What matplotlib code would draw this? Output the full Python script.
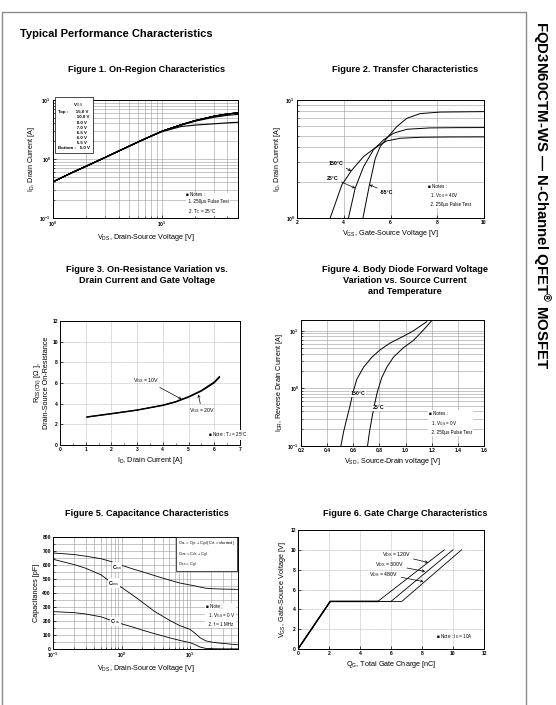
import matplotlib
matplotlib.use("Agg")
import matplotlib.pyplot as plt
from matplotlib.lines import Line2D
from matplotlib.ticker import NullFormatter
import numpy as np

plt.rcParams['font.family'] = ['Liberation Sans', 'DejaVu Sans']
plt.rcParams['mathtext.fontset'] = 'custom'
plt.rcParams['mathtext.rm'] = 'Liberation Sans'
plt.rcParams['mathtext.it'] = 'Liberation Sans'
plt.rcParams['mathtext.bf'] = 'Liberation Sans:bold'

W, H = 556, 705

# ---- Figure 1 data: on-region (ID vs VDS, log-log)
f1_vds = [1, 1.5, 2, 3, 5, 7, 10, 15, 20, 30, 40, 50]
f1_top = [0.41, 0.59, 0.75, 1.06, 1.65, 2.2, 2.95, 3.8, 4.45, 5.3, 5.8, 6.05]
f1_55v = [0.41, 0.59, 0.75, 1.06, 1.65, 2.2, 2.95, 3.75, 4.35, 5.1, 5.5, 5.7]
f1_5v = [0.41, 0.59, 0.75, 1.06, 1.65, 2.2, 2.9, 3.55, 3.75, 3.95, 4.1, 4.2]
f1_legend = ["15.0 V", "10.0 V", "8.0 V", "7.0 V", "6.5 V", "6.0 V", "5.5 V", "5.0 V"]

# ---- Figure 2 data: transfer characteristics
f2_vgs_150 = [3.42, 3.92, 4.32, 4.85, 5.42, 5.84, 6.41, 7.27, 8.5, 10]
f2_id_150 = [1.0, 1.91, 2.51, 3.32, 4.03, 4.5, 4.74, 4.83, 4.86, 4.87]
f2_vgs_25 = [4.2, 4.49, 4.85, 5.27, 5.7, 6.13, 6.7, 7.69, 8.8, 10]
f2_id_25 = [1.0, 1.79, 2.73, 3.78, 4.59, 5.23, 5.65, 5.8, 5.83, 5.84]
f2_vgs_m55 = [4.82, 5.1, 5.35, 5.56, 5.84, 6.27, 6.7, 7.27, 8.12, 10]
f2_id_m55 = [1.0, 1.91, 3.21, 4.03, 4.74, 5.95, 7.0, 7.67, 7.9, 7.97]

# ---- Figure 3 data: on-resistance vs drain current
f3_id = [1.05, 2, 3, 4, 4.5, 5, 5.5, 6, 6.2]
f3_r10 = [2.72, 3.04, 3.39, 3.86, 4.2, 4.68, 5.28, 6.1, 6.62]
f3_r20 = [2.7, 3.02, 3.37, 3.83, 4.16, 4.63, 5.22, 6.02, 6.55]

# ---- Figure 4 data: body diode forward voltage
f4_vsd_150 = [0.505, 0.526, 0.551, 0.577, 0.597, 0.627, 0.678, 0.742, 0.806, 0.882, 0.984, 1.06, 1.162]
f4_idr_150 = [0.1, 0.177, 0.303, 0.522, 0.84, 1.44, 2.32, 3.48, 4.69, 6.14, 8.05, 10.0, 14.4]
f4_vsd_25 = [0.709, 0.724, 0.742, 0.762, 0.785, 0.818, 0.856, 0.907, 0.984, 1.06, 1.136, 1.2]
f4_idr_25 = [0.1, 0.177, 0.303, 0.522, 0.89, 1.54, 2.32, 3.48, 5.1, 6.8, 10.3, 15.0]

# ---- Figure 5 data: capacitance
f5_vds = [0.1, 0.2, 0.3, 0.5, 0.7, 1, 1.5, 2, 3, 5, 7, 10, 12, 14, 17, 22, 30, 50]
f5_ciss = [686, 675, 663, 645, 625, 598, 570, 552, 525, 492, 472, 457, 450, 442, 434, 430, 428, 426]
f5_coss = [641, 604, 577, 530, 478, 440, 380, 335, 270, 205, 168, 140, 110, 80, 58, 47, 40, 30]
f5_crss = [267, 260, 250, 230, 205, 180, 155, 135, 110, 80, 62, 45, 30, 14, 4, 2, 1, 1]

# ---- Figure 6 data: gate charge
f6_qg_120 = [0, 2.08, 5.15, 9.44]
f6_qg_300 = [0, 2.08, 6.0, 10.0]
f6_qg_480 = [0, 2.08, 6.7, 10.55]
f6_vgs = [0, 4.8, 4.8, 10]

fig = plt.figure(figsize=(W / 100, H / 100), dpi=100)


def ax_at(l, t, r, b):
    return fig.add_axes([l / W, 1 - b / H, (r - l) / W, (b - t) / H])


def ftext(x, y, s, **kw):
    fig.text(x / W, 1 - y / H, s, **kw)


def style(ax):
    ax.tick_params(labelsize=3.6, length=2, width=0.5, pad=1.5, direction='in')
    ax.tick_params(which='minor', length=1.2, width=0.4, direction='in')
    ax.xaxis.set_minor_formatter(NullFormatter())
    ax.yaxis.set_minor_formatter(NullFormatter())
    for sp in ax.spines.values():
        sp.set_linewidth(0.7)
    for lab in ax.get_xticklabels() + ax.get_yticklabels():
        lab.set_fontweight('bold')


gkw = dict(color='#9a9a9a', linewidth=0.4)
lab_fs = 5.2
note_fs = 3.3

# page frame
fig.add_artist(Line2D([2 / W, 2 / W, 526 / W, 526 / W], [0, 1 - 12 / H, 1 - 12 / H, 0],
                      transform=fig.transFigure, color='#8c8c8c', linewidth=1.0))
ftext(20, 34, "Typical Performance Characteristics", fontsize=8, fontweight='bold', va='center')
ftext(541, 195, "FQD3N60CTM-WS — N-Channel QFET$^{\\mathregular{®}}$ MOSFET", fontsize=10.8,
      fontweight='bold', rotation=-90, ha='center', va='center')

tkw = dict(fontsize=6.6, fontweight='bold', ha='center')
ftext(147, 70, "Figure 1. On-Region Characteristics", va='center', **tkw)
ftext(405, 70, "Figure 2. Transfer Characteristics", va='center', **tkw)
ftext(147, 265, "Figure 3. On-Resistance Variation vs.\nDrain Current and Gate Voltage", va='top',
      linespacing=1.25, **tkw)
ftext(405, 265, "Figure 4. Body Diode Forward Voltage\nVariation vs. Source Current\nand Temperature",
      va='top', linespacing=1.25, **tkw)
ftext(147, 514, "Figure 5. Capacitance Characteristics", va='center', **tkw)
ftext(405, 514, "Figure 6. Gate Charge Characteristics", va='center', **tkw)

# ---------------- Figure 1
ax1 = ax_at(53, 100, 238, 218)
ax1.set_xscale('log')
ax1.set_yscale('log')
f1_curves = [f1_top, f1_top, f1_top, f1_top, f1_top, f1_top, f1_55v, f1_5v]
for c in f1_curves:
    ax1.plot(f1_vds, c, color='black', linewidth=0.8)
ax1.set_xlim(1, 50)
ax1.set_ylim(0.1, 10)
ax1.grid(True, which='both', **gkw)
ax1.set_xlabel("V$_{DS}$, Drain-Source Voltage [V]", fontsize=lab_fs, labelpad=2)
ax1.set_ylabel("I$_D$, Drain Current [A]", fontsize=lab_fs, labelpad=2)
style(ax1)
leg_txt = "             V$_{GS}$\nTop :      " + f1_legend[0] + "\n" + \
    "\n".join("               " + v for v in f1_legend[1:-1]) + "\nBottom :   " + f1_legend[-1]
ax1.text(0.025, 0.985, leg_txt, transform=ax1.transAxes, fontsize=3.2, va='top', ha='left',
         linespacing=1.35, fontweight='bold',
         bbox=dict(boxstyle='square,pad=0.7', facecolor='white', edgecolor='black', linewidth=0.5))
ax1.text(0.72, 0.12, "■ Notes :\n  1. 250μs Pulse Test\n  2. T$_C$ = 25°C", transform=ax1.transAxes,
         fontsize=note_fs, va='center', ha='left', linespacing=1.5,
         bbox=dict(facecolor='white', edgecolor='none', pad=0.5))

# ---------------- Figure 2
ax2 = ax_at(297, 100, 484, 218)
ax2.set_yscale('log')
ax2.plot(f2_vgs_150, f2_id_150, color='black', linewidth=0.7)
ax2.plot(f2_vgs_25, f2_id_25, color='black', linewidth=0.7)
ax2.plot(f2_vgs_m55, f2_id_m55, color='black', linewidth=0.7)
ax2.set_xlim(2, 10)
ax2.set_ylim(1, 10)
ax2.set_xticks([2, 4, 6, 8, 10])
ax2.grid(True, which='both', **gkw)
ax2.set_xlabel("V$_{GS}$, Gate-Source Voltage [V]", fontsize=lab_fs, labelpad=2)
ax2.set_ylabel("I$_D$, Drain Current [A]", fontsize=lab_fs, labelpad=2)
style(ax2)
akw = dict(arrowstyle='->', linewidth=0.5, color='black', shrinkA=0, shrinkB=0, mutation_scale=4)
ax2.annotate("150°C", xy=(4.32, 2.51), xytext=(3.35, 2.92), fontsize=3.8, ha='left', va='center',
             fontweight='bold', arrowprops=akw)
ax2.annotate("25°C", xy=(4.49, 1.79), xytext=(3.28, 2.18), fontsize=3.8, ha='left', va='center',
             fontweight='bold', arrowprops=akw)
ax2.annotate("-55°C", xy=(5.1, 1.91), xytext=(5.55, 1.66), fontsize=3.8, ha='left', va='center',
             fontweight='bold', arrowprops=akw)
ax2.text(7.6, 1.55, "■ Notes :\n  1. V$_{DS}$ = 40V\n  2. 250μs Pulse Test", fontsize=note_fs,
         va='center', ha='left', linespacing=1.5,
         bbox=dict(facecolor='white', edgecolor='none', pad=0.5))

# ---------------- Figure 3
ax3 = ax_at(60, 321, 240, 445)
ax3.plot(f3_id, f3_r10, color='black', linewidth=0.9)
ax3.plot(f3_id, f3_r20, color='black', linewidth=0.9)
ax3.set_xlim(0, 7)
ax3.set_ylim(0, 12)
ax3.set_xticks(range(0, 8))
ax3.set_xticks(np.arange(0.5, 7, 1.0), minor=True)
ax3.set_yticks(range(0, 13, 2))
ax3.grid(True, which='major', color='#a8a8a8', linewidth=0.4, linestyle=(0, (2, 1)))
ax3.set_xlabel("I$_D$, Drain Current [A]", fontsize=lab_fs, labelpad=2)
ax3.set_ylabel("R$_{DS(ON)}$ [Ω ],\nDrain-Source On-Resistance", fontsize=lab_fs, labelpad=2,
               linespacing=1.0)
style(ax3)
ax3.annotate("V$_{GS}$ = 10V", xy=(4.73, 4.43), xytext=(2.85, 6.27), fontsize=3.8, ha='left',
             va='center', arrowprops=akw)
ax3.annotate("V$_{GS}$ = 20V", xy=(5.38, 4.9), xytext=(5.0, 3.3), fontsize=3.8, ha='left',
             va='center', arrowprops=akw)
ax3.text(5.75, 1.0, "■ Note : T$_J$ = 25°C", fontsize=note_fs, va='center', ha='left',
         bbox=dict(facecolor='white', edgecolor='none', pad=0.5))

# ---------------- Figure 4
ax4 = ax_at(301, 320, 484, 446)
ax4.set_yscale('log')
ax4.plot(f4_vsd_150, f4_idr_150, color='black', linewidth=0.7)
ax4.plot(f4_vsd_25, f4_idr_25, color='black', linewidth=0.7)
ax4.set_xlim(0.2, 1.6)
ax4.set_ylim(0.1, 15.4)
ax4.set_xticks([0.2, 0.4, 0.6, 0.8, 1.0, 1.2, 1.4, 1.6])
ax4.set_yticks([0.1, 1, 10])
ax4.grid(True, which='both', **gkw)
ax4.set_xlabel("V$_{SD}$, Source-Drain voltage [V]", fontsize=lab_fs, labelpad=2)
ax4.set_ylabel("I$_{DR}$, Reverse Drain Current [A]", fontsize=lab_fs, labelpad=2)
style(ax4)
ax4.text(0.58, 0.8, "150°C", fontsize=3.8, ha='left', va='center', fontweight='bold',
         bbox=dict(facecolor='white', edgecolor='none', pad=0.3))
ax4.text(0.75, 0.46, "25°C", fontsize=3.8, ha='left', va='center', fontweight='bold',
         bbox=dict(facecolor='white', edgecolor='none', pad=0.3))
ax4.text(1.18, 0.25, "■ Notes :\n  1. V$_{GS}$ = 0V\n  2. 250μs Pulse Test", fontsize=note_fs,
         va='center', ha='left', linespacing=1.5,
         bbox=dict(facecolor='white', edgecolor='none', pad=0.5))

# ---------------- Figure 5
ax5 = ax_at(53, 537, 238, 649)
ax5.set_xscale('log')
ax5.plot(f5_vds, f5_ciss, color='black', linewidth=0.6)
ax5.plot(f5_vds, f5_coss, color='black', linewidth=0.6)
ax5.plot(f5_vds, f5_crss, color='black', linewidth=0.6)
ax5.set_xlim(0.1, 50)
ax5.set_ylim(0, 800)
ax5.set_yticks(range(0, 801, 100))
ax5.set_yticks(range(50, 800, 100), minor=True)
ax5.grid(True, which='both', **gkw)
ax5.set_xlabel("V$_{DS}$, Drain-Source Voltage [V]", fontsize=lab_fs, labelpad=2)
ax5.set_ylabel("Capacitances [pF]", fontsize=lab_fs, labelpad=2)
style(ax5)
ckw = dict(fontsize=3.8, ha='left', va='center', fontweight='bold',
           bbox=dict(facecolor='white', edgecolor='none', pad=0.2))
ax5.text(0.72, 585, "C$_{iss}$", **ckw)
ax5.text(0.64, 470, "C$_{oss}$", **ckw)
ax5.text(0.68, 195, "C$_{rss}$", **ckw)
ax5.text(0.985, 0.98, "C$_{iss}$ = C$_{gs}$ + C$_{gd}$ (C$_{ds}$ = shorted)\nC$_{oss}$ = C$_{ds}$ + C$_{gd}$\n"
         "C$_{rss}$ = C$_{gd}$", transform=ax5.transAxes, fontsize=2.9, ha='right', va='top',
         multialignment='left', linespacing=1.3,
         bbox=dict(boxstyle='square,pad=0.5', facecolor='white', edgecolor='black', linewidth=0.5))
ax5.text(17, 240, "■ Note ;\n  1. V$_{GS}$ = 0 V\n  2. f = 1 MHz", fontsize=note_fs, va='center',
         ha='left', linespacing=1.5, bbox=dict(facecolor='white', edgecolor='none', pad=0.5))

# ---------------- Figure 6
ax6 = ax_at(298, 530, 484, 649)
ax6.plot(f6_qg_120, f6_vgs, color='black', linewidth=0.6)
ax6.plot(f6_qg_300, f6_vgs, color='black', linewidth=0.6)
ax6.plot(f6_qg_480, f6_vgs, color='black', linewidth=0.6)
ax6.plot(f6_qg_120[:3], f6_vgs[:3], color='black', linewidth=1.1)
ax6.set_xlim(0, 12)
ax6.set_ylim(0, 12)
ax6.set_xticks(range(0, 13, 2))
ax6.set_yticks(range(0, 13, 2))
ax6.grid(True, which='major', color='#a8a8a8', linewidth=0.4, linestyle=(0, (2, 1)))
ax6.set_xlabel("Q$_G$, Total Gate Charge [nC]", fontsize=lab_fs, labelpad=2)
ax6.set_ylabel("V$_{GS}$, Gate-Source Voltage [V]", fontsize=lab_fs, labelpad=2)
style(ax6)
ax6.annotate("V$_{DS}$ = 120V", xy=(8.4, 8.72), xytext=(5.4, 9.5), fontsize=3.8, ha='left',
             va='center', arrowprops=akw)
ax6.annotate("V$_{DS}$ = 300V", xy=(8.2, 7.82), xytext=(4.98, 8.5), fontsize=3.8, ha='left',
             va='center', arrowprops=akw)
ax6.annotate("V$_{DS}$ = 480V", xy=(8.1, 6.8), xytext=(4.6, 7.55), fontsize=3.8, ha='left',
             va='center', arrowprops=akw)
ax6.text(8.9, 1.3, "■ Note : I$_D$ = 10A", fontsize=note_fs, va='center', ha='left')

fig.savefig("out.png", dpi=100)
